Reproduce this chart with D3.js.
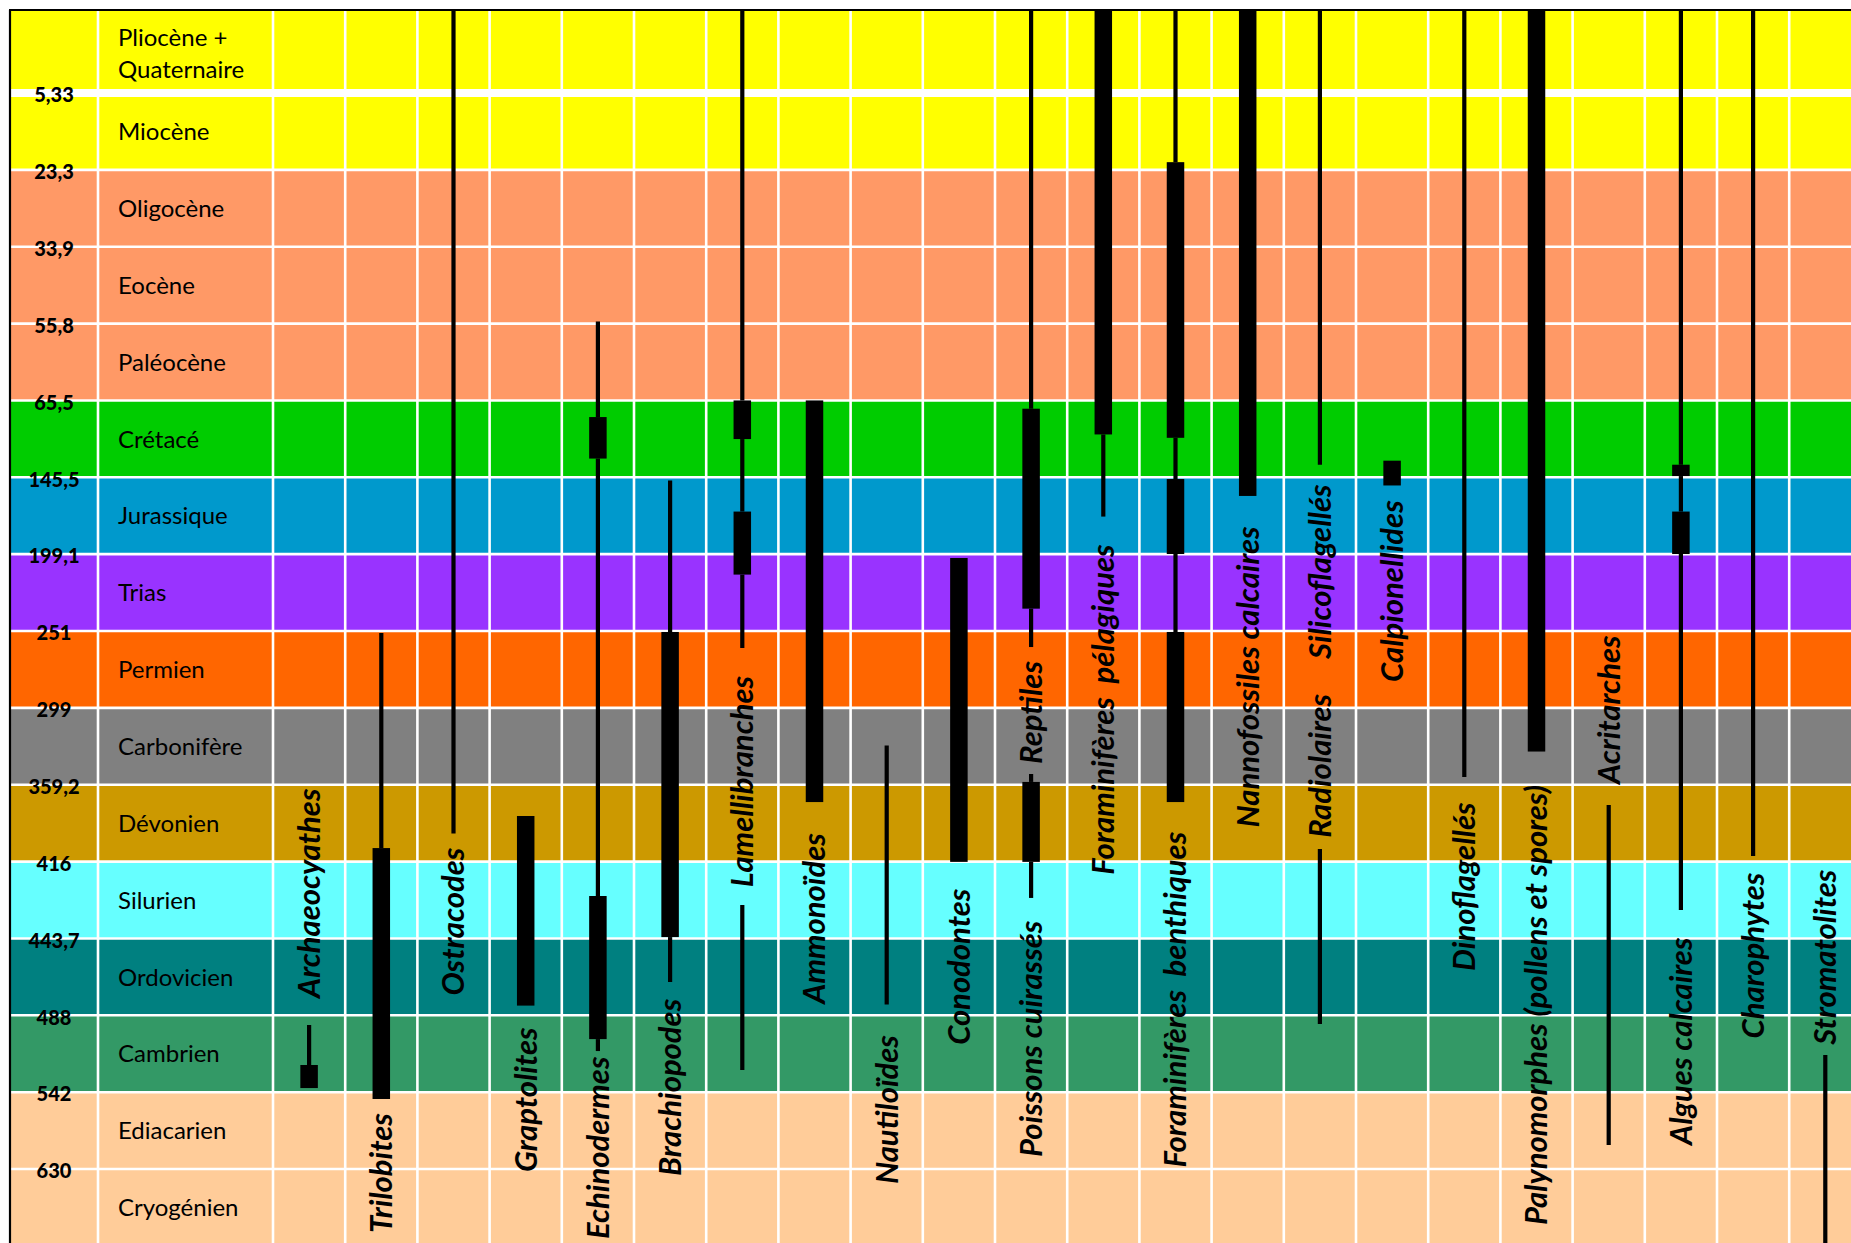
<!DOCTYPE html>
<html>
<head>
<meta charset="utf-8">
<script src="https://cdn.jsdelivr.net/npm/d3@7"></script>
<style>
  body { margin: 0; background: #fff; }
  text { font-family: Lato, "Open Sans", sans-serif; }
</style>
</head>
<body>
<svg id="chart"></svg>
<script>
// periods, youngest first
const periods = [
  ['Pliocène +', 'Quaternaire'], ['Miocène'], ['Oligocène'], ['Eocène'], ['Paléocène'],
  ['Crétacé'], ['Jurassique'], ['Trias'], ['Permien'], ['Carbonifère'], ['Dévonien'],
  ['Silurien'], ['Ordovicien'], ['Cambrien'], ['Ediacarien'], ['Cryogénien']
];
const periodColors = [
  '#FFFF00', '#FFFF00', '#FF9966', '#FF9966', '#FF9966', '#00CC00', '#0099CC', '#9933FF',
  '#FF6600', '#808080', '#CC9900', '#66FFFF', '#008080', '#339966', '#FFCC99', '#FFCC99'
];
// period limits in Ma (top of chart = 0, bottom of the last row is cut)
const limits = [0, 5.33, 23.3, 33.9, 55.8, 65.5, 145.5, 199.1, 251, 299, 359.2, 416, 443.7, 488, 542, 630, 850];
const limitLabels = ['5,33', '23,3', '33,9', '55,8', '65,5', '145,5', '199,1', '251', '299', '359,2', '416', '443,7', '488', '542', '630'];

// one column per group, left to right
const columns = d3.range(22);

// thin lines = range of the group: [column, from Ma, to Ma]
const thinRanges = [
  [0, 494.8, 522.9],
  [1, 252.2, 406.0],
  [2, 0, 395.3],
  [4, 55.2, 82.8], [4, 126.0, 428.4], [4, 504.7, 513.1],
  [5, 147.7, 251.6], [5, 443.2, 468.8],
  [6, 0, 65.5], [6, 105.7, 169.4], [6, 212.9, 261.6], [6, 431.6, 526.4],
  [8, 328.5, 481.7],
  [10, 0, 74.1], [10, 235.9, 261.0], [10, 350.8, 357.0], [10, 416.1, 429.1],
  [11, 100.9, 172.9],
  [12, 0, 21.5], [12, 104.4, 146.7], [12, 199.0, 251.6],
  [14, 0, 132.4], [14, 406.6, 494.1],
  [16, 0, 353.1],
  [18, 374.2, 602.5],
  [19, 0, 132.4], [19, 144.2, 169.4], [19, 199.0, 433.4],
  [20, 0, 411.9],
  [21, 515.9, 850]
];

// thick bars = periods where the group is abundant
const thickRanges = [
  [0, 522.9, 539.1],
  [1, 406.0, 549.8],
  [3, 382.3, 482.4],
  [4, 82.8, 126.0], [4, 428.4, 504.7],
  [5, 251.6, 443.2],
  [6, 65.5, 105.7], [6, 169.4, 212.9],
  [7, 65.5, 372.0],
  [9, 201.7, 416.1],
  [10, 74.1, 235.9], [10, 357.0, 416.1],
  [11, 0, 100.9],
  [12, 21.5, 104.4], [12, 146.7, 199.0], [12, 251.6, 372.0],
  [13, 0, 158.5],
  [15, 128.2, 151.2],
  [17, 0, 333.2],
  [19, 132.4, 144.2], [19, 169.4, 199.0]
];

// group names: [column, name, Ma where the (upward) text starts]
const groupLabels = [
  [0, 'Archaeocyathes', 478.0],
  [1, 'Trilobites', 813],
  [2, 'Ostracodes', 476.6],
  [3, 'Graptolites', 638.6],
  [4, 'Echinodermes', 830],
  [5, 'Brachiopodes', 650],
  [6, 'Lamellibranches', 425.2],
  [7, 'Ammonoïdes', 481.3],
  [8, 'Nautiloïdes', 673],
  [9, 'Conodontes', 508.7],
  [10, 'Reptiles', 342.9],
  [10, 'Poissons cuirassés', 616.2],
  [11, 'Foraminifères  pélagiques', 420.7],
  [12, 'Foraminifères  benthiques', 628.3],
  [13, 'Nannofossiles calcaires', 390.8],
  [14, 'Silicoflagellés', 268.5],
  [14, 'Radiolaires', 398.4],
  [15, 'Calpionellides', 282.8],
  [16, 'Dinoflagellés', 462.4],
  [17, 'Palynomorphes (pollens et spores)', 790.3],
  [18, 'Acritarches', 358.6],
  [19, 'Algues calcaires', 602.5],
  [20, 'Charophytes', 504.3],
  [21, 'Stromatolites', 508.7]
];

const width = 1851, height = 1243;
const padLeft = 10, padTop = 10, rowH = 76.86;

const svg = d3.select('#chart').attr('width', width).attr('height', height)
  .style('display', 'block');

// age -> y, piecewise between period limits
const y = d3.scaleLinear()
  .domain(limits)
  .range([padTop, ...d3.range(limits.length - 1).map(i => 93 + i * rowH)]);

const x = d3.scaleBand().domain(columns).range([273, 273 + columns.length * 72.2]);

// colour rows
svg.append('g').selectAll('rect')
  .data(periods)
  .join('rect')
  .attr('x', padLeft)
  .attr('y', (d, i) => y(limits[i]))
  .attr('width', width - padLeft)
  .attr('height', (d, i) => y(limits[i + 1]) - y(limits[i]))
  .attr('fill', (d, i) => periodColors[i]);

// white grid
const grid = svg.append('g').attr('stroke', '#fff');
grid.selectAll('line.h')
  .data(limits.slice(1, -1))
  .join('line')
  .attr('x1', padLeft).attr('x2', width)
  .attr('y1', d => y(d)).attr('y2', d => y(d))
  .attr('stroke-width', (d, i) => i === 0 ? 8 : 2.6);
grid.selectAll('line.v')
  .data([98, ...columns.map(c => x(c))])
  .join('line')
  .attr('x1', d => d).attr('x2', d => d)
  .attr('y1', padTop).attr('y2', height)
  .attr('stroke-width', 2.6);

// frame
svg.append('line').attr('x1', padLeft - 1).attr('x2', width).attr('y1', padTop).attr('y2', padTop)
  .attr('stroke', '#000').attr('stroke-width', 2.2);
svg.append('line').attr('x1', padLeft).attr('x2', padLeft).attr('y1', padTop).attr('y2', height)
  .attr('stroke', '#000').attr('stroke-width', 2.2);

// ages at the limits
svg.append('g').selectAll('text')
  .data(limitLabels)
  .join('text')
  .attr('x', 54)
  .attr('y', (d, i) => y(limits[i + 1]) + 2)
  .attr('dy', '0.36em')
  .attr('text-anchor', 'middle')
  .attr('font-weight', 900)
  .attr('font-size', 20)
  .text(d => d);

// period names
svg.append('g').selectAll('text')
  .data(periods)
  .join('text')
  .attr('x', 118)
  .attr('font-size', 24)
  .each(function (d, i) {
    const mid = (y(limits[i]) + y(limits[i + 1])) / 2 + (i === 0 ? 2 : 0);
    const t = d3.select(this);
    d.forEach((line, k) => {
      t.append('tspan')
        .attr('x', 118)
        .attr('y', mid + (k - (d.length - 1) / 2) * 32)
        .attr('dy', '0.36em')
        .text(line);
    });
  });

const cx = c => x(c) + x.bandwidth() / 2;

// ranges
svg.append('g').selectAll('line')
  .data(thinRanges)
  .join('line')
  .attr('x1', d => cx(d[0])).attr('x2', d => cx(d[0]))
  .attr('y1', d => y(d[1])).attr('y2', d => y(d[2]))
  .attr('stroke', '#000').attr('stroke-width', 4.2);

svg.append('g').selectAll('rect')
  .data(thickRanges)
  .join('rect')
  .attr('x', d => cx(d[0]) - 8.75)
  .attr('width', 17.5)
  .attr('y', d => y(d[1]))
  .attr('height', d => y(d[2]) - y(d[1]))
  .attr('fill', '#000');

// group names, written upward
svg.append('g').selectAll('text')
  .data(groupLabels)
  .join('text')
  .attr('transform', d => `translate(${cx(d[0])},${y(d[2])}) rotate(-90)`)
  .attr('dy', '0.35em')
  .attr('font-size', 31)
  .attr('font-weight', 700)
  .attr('font-style', 'italic')
  .style('white-space', 'pre')
  .text(d => d[1]);
</script>
</body>
</html>
